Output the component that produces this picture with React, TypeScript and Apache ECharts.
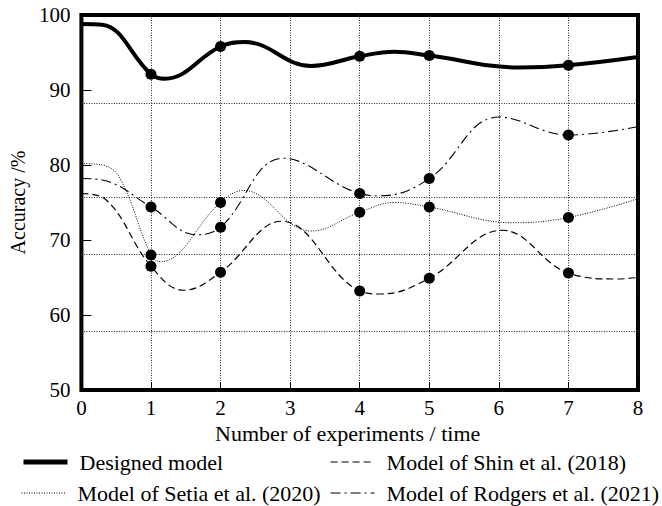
import React, { useEffect, useRef } from "react";
import * as echarts from "echarts";

const xTicks = [0, 1, 2, 3, 4, 5, 6, 7, 8];
const markerX = [1, 2, 4, 5, 7];
const hGridLevels = [88.2, 75.7, 68.1, 57.9];

const designedModel: [number, number][] = [
  [0, 98.8], [0.3, 98.7], [1, 92.1], [1.2, 91.5], [2, 95.8], [2.35, 96.4],
  [3.3, 93.2], [4, 94.5], [4.5, 95.1], [5, 94.6], [6.3, 93.0], [7, 93.3], [8, 94.4],
];
const shinModel: [number, number][] = [
  [0, 76.2], [0.35, 75.4], [1, 66.5], [1.47, 63.3], [2, 65.7], [2.88, 72.5],
  [4, 63.2], [4.3, 62.8], [5, 64.9], [6.05, 71.3], [7, 65.6], [7.7, 64.8], [8, 65.0],
];
const setiaModel: [number, number][] = [
  [0, 80.2], [0.3, 80.0], [0.55, 78.3], [1, 68.0], [1.13, 67.1], [2, 75.0],
  [2.33, 76.6], [3.3, 71.2], [4, 73.7], [4.5, 75.0], [5, 74.4], [6.2, 72.3],
  [7, 73.0], [8, 75.5],
];
const rodgersModel: [number, number][] = [
  [0, 78.2], [0.3, 78.0], [1, 74.4], [1.65, 70.7], [2, 71.7], [2.9, 80.9],
  [4, 76.2], [4.3, 75.9], [5, 78.2], [6.0, 86.4], [7, 84.0], [8, 85.1],
];

const names = [
  "Designed model",
  "Model of Shin et al. (2018)",
  "Model of Setia et al. (2020)",
  "Model of Rodgers et al. (2021)",
];

const FONT = "'Liberation Serif', 'Times New Roman', 'DejaVu Serif', serif";

export default function App() {
  const ref = useRef<HTMLDivElement>(null);
  useEffect(() => {
    if (!ref.current) return;
    const chart = echarts.init(ref.current, null, { renderer: "svg" });
    const curves = [designedModel, shinModel, setiaModel, rodgersModel];
    const styles = [
      { width: 4, type: "solid" as any },
      { width: 1.2, type: [7, 4] as any },
      { width: 1, type: [1, 1.5] as any },
      { width: 1.1, type: [10, 4, 2, 4] as any },
    ];
    const lineSeries = curves.map((data, i) => ({
      type: "line",
      name: names[i],
      data,
      smooth: 0.4,
      symbol: "none",
      lineStyle: { color: "#000", width: styles[i].width, type: styles[i].type },
      itemStyle: { color: "#000" },
      z: 3,
      ...(i === 0
        ? {
            markLine: {
              silent: true,
              symbol: ["none", "none"],
              label: { show: false },
              lineStyle: { color: "#222", width: 1, type: [1, 1.5] },
              data: hGridLevels.map((v) => ({ yAxis: v })),
              z: 1,
            },
          }
        : {}),
    }));
    const markerSeries = curves.map((data) => ({
      type: "scatter",
      data: data.filter((p) => markerX.includes(p[0])),
      symbol: "circle",
      symbolSize: 11,
      itemStyle: { color: "#000", opacity: 1 },
      z: 5,
    }));
    const legendPos = [
      { left: 16, top: 446, lw: 5 },
      { left: 325, top: 446, lw: 1.2 },
      { left: 16, top: 477, lw: 1 },
      { left: 325, top: 477, lw: 1.1 },
    ];
    chart.setOption({
      animation: false,
      textStyle: { fontFamily: FONT },
      grid: {
        left: 73,
        right: 24,
        top: 15,
        bottom: 116,
        show: true,
        borderColor: "#000",
        borderWidth: 4,
      },
      legend: legendPos.map((p, i) => ({
        data: [names[i]],
        left: p.left,
        top: p.top,
        itemWidth: 44,
        itemHeight: 20,
        itemGap: 0,
        selectedMode: false,
        lineStyle: { width: p.lw },
        itemStyle: { opacity: 0, borderWidth: 0 },
        textStyle: { fontFamily: FONT, fontSize: 22, color: "#000", padding: [0, 0, 0, 7] },
      })),
      xAxis: {
        type: "value",
        min: xTicks[0],
        max: xTicks[xTicks.length - 1],
        interval: 1,
        name: "Number of experiments / time",
        nameLocation: "middle",
        nameGap: 30,
        nameTextStyle: { fontFamily: FONT, fontSize: 22, color: "#000", padding: [0, 24, 0, 0] },
        axisLine: { show: false },
        axisTick: { show: true, inside: true, length: 8, lineStyle: { color: "#000", width: 1 } },
        axisLabel: { fontFamily: FONT, fontSize: 21, color: "#000", margin: 7 },
        splitLine: { show: true, lineStyle: { color: "#222", width: 1, type: [1, 1.5] } },
      },
      yAxis: {
        type: "value",
        min: 50,
        max: 100,
        interval: 10,
        name: "Accuracy /%",
        nameLocation: "middle",
        nameRotate: 90,
        nameGap: 46,
        nameTextStyle: { fontFamily: FONT, fontSize: 20, color: "#000" },
        axisLine: { show: false },
        axisTick: { show: true, inside: true, length: 10, lineStyle: { color: "#000", width: 1 } },
        axisLabel: { fontFamily: FONT, fontSize: 21, color: "#000", margin: 11 },
        splitLine: { show: false },
      },
      series: [...lineSeries, ...markerSeries],
    });
    return () => chart.dispose();
  }, []);
  return (
    <div
      ref={ref}
      style={{ position: "fixed", left: 0, top: 0, width: 662, height: 506, background: "#fff" }}
    />
  );
}
